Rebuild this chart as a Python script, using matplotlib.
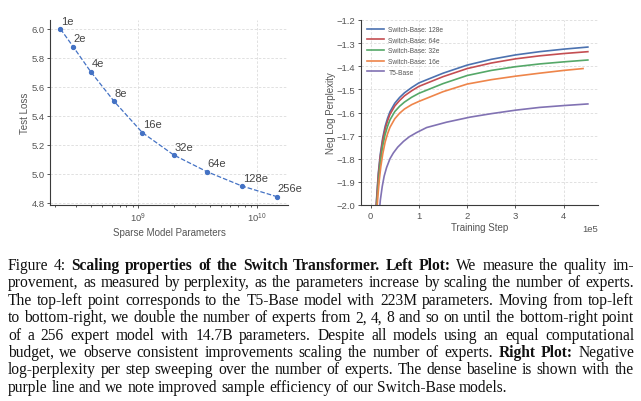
"""
Switch Transformer figure 4: test loss vs sparse parameters (left) and
neg log perplexity vs training step (right), with the paper caption below.
"""
import numpy as np
from matplotlib import pyplot as plt

# Left plot: scaling the number of experts
EXPERTS = ["1e", "2e", "4e", "8e", "16e", "32e", "64e", "128e", "256e"]
PARAMS = [2.23e8, 2.85e8, 4.0e8, 6.3e8, 1.09e9, 2.0e9, 3.8e9, 7.5e9, 1.47e10]
TEST_LOSS = [6.0, 5.878, 5.706, 5.501, 5.285, 5.131, 5.016, 4.917, 4.844]

# Right plot: neg log perplexity per training step (steps in units of 1e5)
STEP_128 = [0.10, 0.13, 0.16, 0.20, 0.25, 0.30, 0.35, 0.40, 0.50, 0.60, 0.70, 0.85, 1.00,
            1.50, 2.00, 2.50, 3.00, 3.50, 4.00, 4.50]
NLP_128 = [-2.05, -1.95, -1.86, -1.78, -1.71, -1.66, -1.625, -1.597, -1.560, -1.535, -1.515,
           -1.492, -1.472, -1.430, -1.395, -1.370, -1.351, -1.337, -1.326, -1.317]
STEP_64 = [0.10, 0.13, 0.16, 0.20, 0.25, 0.30, 0.35, 0.40, 0.50, 0.60, 0.70, 0.85, 1.00,
           1.50, 2.00, 2.50, 3.00, 3.50, 4.00, 4.50]
NLP_64 = [-2.05, -1.96, -1.87, -1.79, -1.72, -1.672, -1.636, -1.608, -1.572, -1.548, -1.528,
          -1.506, -1.487, -1.445, -1.410, -1.386, -1.368, -1.355, -1.345, -1.337]
STEP_32 = [0.11, 0.14, 0.17, 0.20, 0.25, 0.30, 0.35, 0.40, 0.50, 0.60, 0.70, 0.85, 1.00,
           1.50, 2.00, 2.50, 3.00, 3.50, 4.00, 4.50]
NLP_32 = [-2.05, -1.96, -1.88, -1.815, -1.745, -1.695, -1.66, -1.632, -1.596, -1.573, -1.555,
          -1.534, -1.517, -1.475, -1.440, -1.418, -1.402, -1.390, -1.381, -1.373]
STEP_16 = [0.12, 0.15, 0.18, 0.21, 0.25, 0.30, 0.35, 0.40, 0.50, 0.60, 0.70, 0.85, 1.00,
           1.50, 2.00, 2.50, 3.00, 3.50, 4.00, 4.40]
NLP_16 = [-2.05, -1.96, -1.89, -1.835, -1.78, -1.728, -1.692, -1.664, -1.627, -1.603, -1.585,
          -1.566, -1.552, -1.510, -1.477, -1.458, -1.443, -1.430, -1.418, -1.410]
STEP_T5 = [0.17, 0.20, 0.24, 0.28, 0.33, 0.40, 0.47, 0.56, 0.68, 0.80, 0.95, 1.16, 1.57,
           2.06, 2.50, 3.00, 3.50, 4.00, 4.50]
NLP_T5 = [-2.05, -1.98, -1.92, -1.875, -1.838, -1.80, -1.775, -1.750, -1.725, -1.705, -1.687,
          -1.665, -1.642, -1.620, -1.605, -1.590, -1.578, -1.570, -1.563]

SERIES = [
    ("Switch-Base: 128e", STEP_128, NLP_128, "#4C72B0"),
    ("Switch-Base: 64e", STEP_64, NLP_64, "#C44E52"),
    ("Switch-Base: 32e", STEP_32, NLP_32, "#55A868"),
    ("Switch-Base: 16e", STEP_16, NLP_16, "#EE854A"),
    ("T5-Base", STEP_T5, NLP_T5, "#8172B3"),
]

# Caption lines, each a list of (text, bold) runs
CAPTION = [
    [("Figure 4:", False), ("Scaling properties of the Switch Transformer. Left Plot:", True),
     ("We measure the quality im-", False)],
    [("provement, as measured by perplexity, as the parameters increase by scaling the number of experts.", False)],
    [("The top-left point corresponds to the T5-Base model with 223M parameters. Moving from top-left", False)],
    [("to bottom-right, we double the number of experts from 2, 4, 8 and so on until the bottom-right point", False)],
    [("of a 256 expert model with 14.7B parameters. Despite all models using an equal computational", False)],
    [("budget, we observe consistent improvements scaling the number of experts.", False),
     ("Right Plot:", True), ("Negative", False)],
    [("log-perplexity per step sweeping over the number of experts. The dense baseline is shown with the", False)],
    [("purple line and we note improved sample efficiency of our Switch-Base models.", False)],
]

W, H = 641, 402
GRID = "#dcdcdc"
SPINE = "#3a3a3a"
TXT = "#555555"

plt.rcParams["font.family"] = ["Liberation Sans", "DejaVu Sans"]


def _style(ax):
    for s in ["top", "right"]:
        ax.spines[s].set_visible(False)
    for s in ["left", "bottom"]:
        ax.spines[s].set_color(SPINE)
        ax.spines[s].set_linewidth(0.8)
    ax.tick_params(which="both", colors=SPINE, labelcolor=TXT, labelsize=6.8,
                   width=0.6, direction="out")
    ax.tick_params(which="major", length=2.5, pad=1.5)
    ax.tick_params(which="minor", length=1.5)
    ax.grid(True, which="major", ls=(0, (3, 2)), color=GRID, lw=0.6)
    ax.set_axisbelow(True)


fig = plt.figure(figsize=(W / 100, H / 100), dpi=100)

# Left plot
ax1 = fig.add_axes([50 / W, 1 - 206 / H, 238 / W, 185 / H])
_style(ax1)
ax1.plot(PARAMS, TEST_LOSS, ls="--", lw=0.9, color="#4472C4", marker="o", ms=2.8)
for name, x, y in zip(EXPERTS, PARAMS, TEST_LOSS):
    ax1.annotate(name, (x, y), xytext=(0.5, 2.5), textcoords="offset points",
                 ha="left", va="bottom", fontsize=8, color="#444444")
ax1.set_xscale("log")
ax1.set_xlim(1.82e8, 1.83e10)
ax1.set_ylim(4.786, 6.062)
ax1.set_yticks(np.arange(4.8, 6.01, 0.2))
ax1.set_xlabel("Sparse Model Parameters", fontsize=7, color=TXT, labelpad=2)
ax1.set_ylabel("Test Loss", fontsize=7, color=TXT, labelpad=1)

# Right plot
ax2 = fig.add_axes([361 / W, 1 - 206 / H, 237 / W, 185 / H])
_style(ax2)
for label, xs, ys, color in SERIES:
    ax2.plot(np.array(xs) * 1e5, ys, color=color, lw=1.2, label=label)
ax2.set_xlim(-0.2e5, 4.71e5)
ax2.set_ylim(-2.0, -1.2)
ax2.set_yticks(np.arange(-2.0, -1.19, 0.1))
ax2.set_xticks(np.arange(0, 4.01e5, 1e5))
ax2.ticklabel_format(axis="x", style="sci", scilimits=(0, 0))
ax2.xaxis.get_offset_text().set_fontsize(6.8)
ax2.xaxis.get_offset_text().set_color(TXT)
ax2.set_xlabel("Training Step", fontsize=7, color=TXT, labelpad=2)
ax2.set_ylabel("Neg Log Perplexity", fontsize=7, color=TXT, labelpad=0.5)
leg = ax2.legend(loc="upper left", fontsize=4.8, frameon=False, handlelength=2.6,
                 handletextpad=0.6, labelspacing=0.55, borderaxespad=0.5,
                 bbox_to_anchor=(0.0, 1.0))
for t in leg.get_texts():
    t.set_color(TXT)

# Caption, fully justified
renderer = fig.canvas.get_renderer()
CAP_SIZE = 11.2
X0, X1 = 8, 634
BASE0, LEAD = 270, 17.4


def _width(s, bold):
    t = fig.text(0, 0, s, family="Liberation Serif", fontsize=CAP_SIZE,
                 weight="bold" if bold else "normal")
    w = t.get_window_extent(renderer).width
    t.remove()
    return w


for i, line in enumerate(CAPTION):
    words = [(w, b) for text, b in line for w in text.split(" ")]
    widths = [_width(w, b) for w, b in words]
    if i == len(CAPTION) - 1:
        gap = _width("a a", False) - 2 * _width("a", False)
    else:
        gap = (X1 - X0 - sum(widths)) / (len(words) - 1)
    x = X0
    yb = 1 - (BASE0 + i * LEAD) / H
    for (w, b), wd in zip(words, widths):
        fig.text(x / W, yb, w, family="Liberation Serif", fontsize=CAP_SIZE,
                 weight="bold" if b else "normal", ha="left", va="baseline",
                 color="#111111")
        x += wd + gap

plt.savefig("out.png", dpi=100)
